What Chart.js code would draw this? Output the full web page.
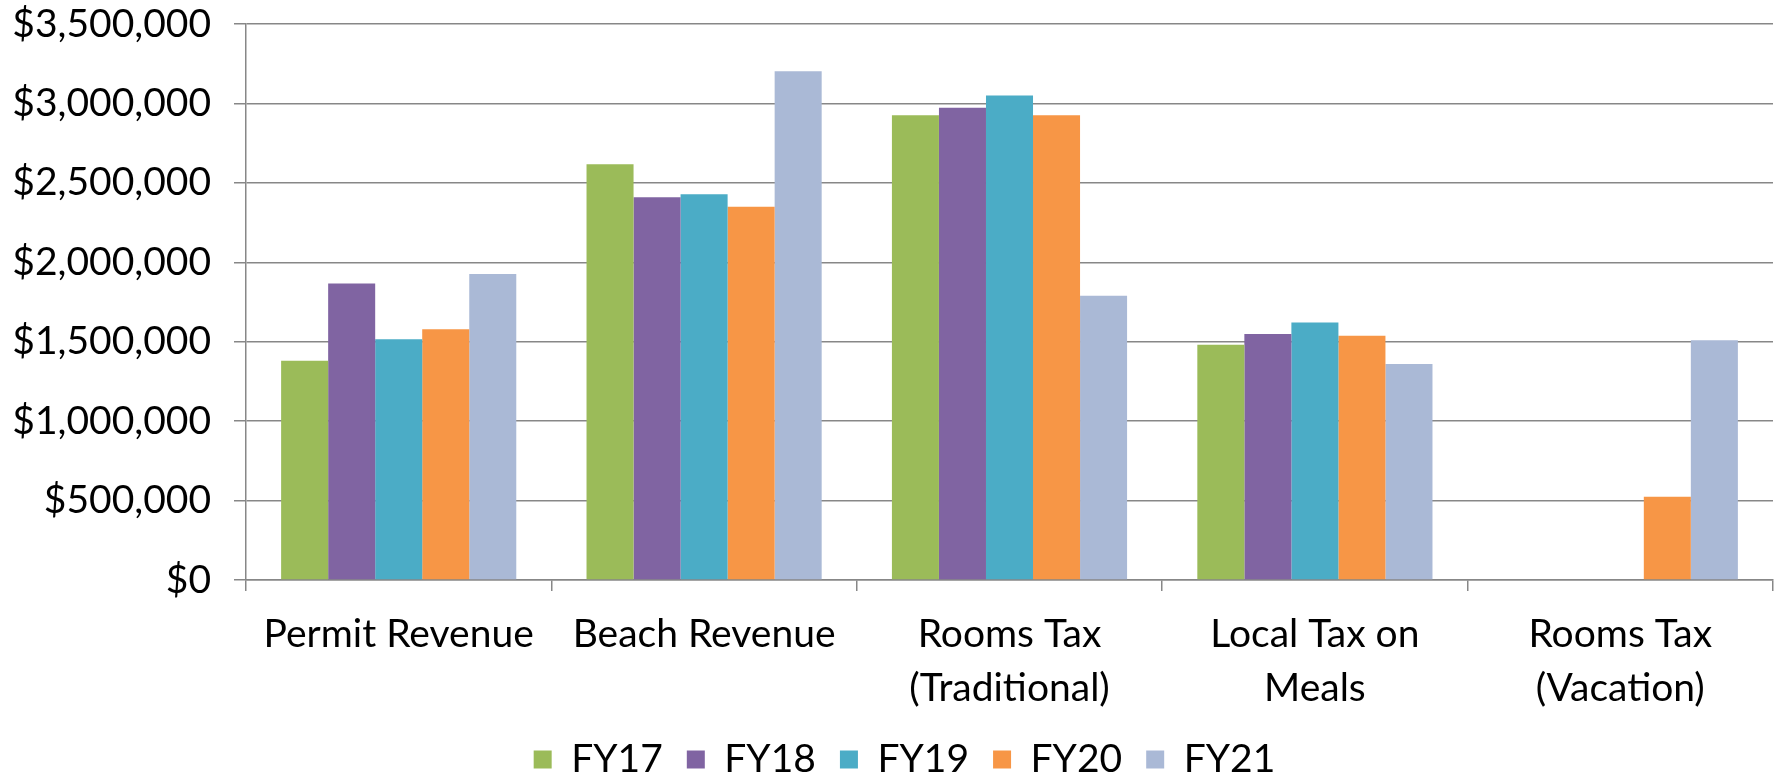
<!DOCTYPE html>
<html>
<head>
<meta charset="utf-8">
<script src="https://cdn.jsdelivr.net/npm/chart.js@4/dist/chart.umd.min.js"></script>
<style>
  html, body { margin: 0; padding: 0; background: #ffffff; }
  #wrap { width: 1784px; height: 778px; }
</style>
</head>
<body>
<div id="wrap"><canvas id="c" width="1784" height="778"></canvas></div>
<script>
const categories = [
  ["Permit Revenue"],
  ["Beach Revenue"],
  ["Rooms Tax", "(Traditional)"],
  ["Local Tax on", "Meals"],
  ["Rooms Tax", "(Vacation)"]
];
const seriesNames = ["FY17", "FY18", "FY19", "FY20", "FY21"];
const fy17 = [1380000, 2617000, 2925000, 1481000, null];
const fy18 = [1866000, 2410000, 2973000, 1549000, null];
const fy19 = [1515000, 2429000, 3050000, 1621000, null];
const fy20 = [1578000, 2350000, 2925000, 1537000, 524000];
const fy21 = [1926000, 3203000, 1789000, 1359000, 1510000];
const seriesColors = ["#9BBB59", "#8064A2", "#4BACC6", "#F79646", "#AAB9D6"];
const yMax = 3500000;
const yStep = 500000;

const allSeries = [fy17, fy18, fy19, fy20, fy21];
const FONT = "Lato";
const gridColor = "#878787";

const shiftLegend = {
  id: "shiftLegend",
  afterLayout(chart) {
    if (chart.legend) { chart.legend.left += 18; chart.legend.right += 18; }
  }
};

new Chart(document.getElementById("c"), {
  type: "bar",
  data: {
    labels: categories,
    datasets: allSeries.map((d, i) => ({
      label: seriesNames[i],
      data: d,
      backgroundColor: seriesColors[i],
      borderWidth: 0,
      barPercentage: 1.0,
      categoryPercentage: 0.77
    }))
  },
  plugins: [shiftLegend],
  options: {
    responsive: false,
    animation: false,
    devicePixelRatio: 1,
    layout: { padding: { left: 0, right: 11, top: 0, bottom: -11 } },
    plugins: {
      tooltip: { enabled: false },
      legend: {
        position: "bottom",
        labels: {
          boxWidth: 18,
          boxHeight: 18,
          padding: 24,
          color: "#000000",
          font: { family: FONT, size: 39 }
        }
      }
    },
    scales: {
      x: {
        afterFit: (s) => { s.height = 136; },
        grid: {
          drawOnChartArea: false,
          drawTicks: true,
          tickLength: 11,
          color: gridColor,
          lineWidth: 1.5
        },
        border: { color: gridColor, width: 1.5 },
        ticks: {
          color: "#000000",
          padding: 17,
          maxRotation: 0,
          autoSkip: false,
          font: { family: FONT, size: 39, lineHeight: 1.37 }
        }
      },
      y: {
        min: 0,
        max: yMax,
        afterFit: (s) => { s.width = 246; s.paddingTop = 24; s.paddingBottom = 0; },
        grid: {
          color: gridColor,
          lineWidth: 1.5,
          drawTicks: true,
          tickLength: 12
        },
        border: { color: gridColor, width: 1.5 },
        ticks: {
          stepSize: yStep,
          color: "#000000",
          padding: 23,
          font: { family: FONT, size: 39 },
          callback: (v) => "$" + Number(v).toLocaleString("en-US")
        }
      }
    }
  }
});
</script>
</body>
</html>
